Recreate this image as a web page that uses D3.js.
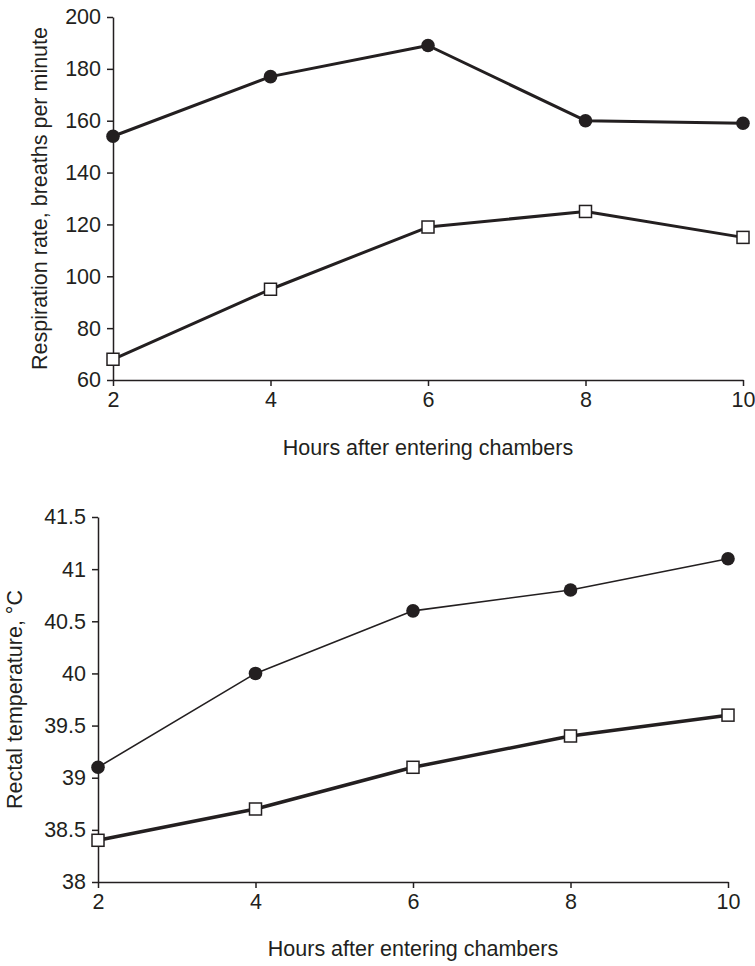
<!DOCTYPE html>
<html>
<head>
<meta charset="utf-8">
<script src="https://cdn.jsdelivr.net/npm/d3@7"></script>
<style>
  body { margin: 0; background: #fff; }
  svg text { font-family: "Liberation Sans", Arial, sans-serif; fill: #231f20; }
</style>
</head>
<body>
<svg id="chart" width="755" height="966"></svg>
<script>
// data
const hours = [2, 4, 6, 8, 10];

const respFilled = [154, 177, 189, 160, 159];
const respOpen = [68, 95, 119, 125, 115];
const respTicks = [60, 80, 100, 120, 140, 160, 180, 200];

const tempFilled = [39.1, 40.0, 40.6, 40.8, 41.1];
const tempOpen = [38.4, 38.7, 39.1, 39.4, 39.6];
const tempTicks = [38, 38.5, 39, 39.5, 40, 40.5, 41, 41.5];

const xTitle = "Hours after entering chambers";
const ink = "#231f20";
const fs = 21.5;

const svg = d3.select("#chart");

drawPanel({
  left: 113, right: 743, top: 17, bottom: 380,
  yDomain: [60, 200], yTicks: respTicks,
  filled: respFilled, open: respOpen,
  filledWidth: 3, openWidth: 3,
  yTitle: "Respiration rate, breaths per minute", yTitleX: 40,
  xTitleY: 448
});

drawPanel({
  left: 98, right: 728, top: 517, bottom: 882,
  yDomain: [38, 41.5], yTicks: tempTicks,
  filled: tempFilled, open: tempOpen,
  filledWidth: 1.6, openWidth: 3.5,
  yTitle: "Rectal temperature, \u00B0C", yTitleX: 15,
  xTitleY: 949
});

function drawPanel(p) {
  const x = d3.scaleLinear().domain([2, 10]).range([p.left, p.right]);
  const y = d3.scaleLinear().domain(p.yDomain).range([p.bottom, p.top]);

  const g = svg.append("g");

  // axes
  const xAxis = g.append("g")
    .attr("transform", `translate(0,${p.bottom})`)
    .call(d3.axisBottom(x).tickValues(hours).tickSize(6).tickSizeOuter(0).tickPadding(6).tickFormat(d => d));
  const yAxis = g.append("g")
    .attr("transform", `translate(${p.left},0)`)
    .call(d3.axisLeft(y).tickValues(p.yTicks).tickSize(6).tickSizeOuter(0).tickPadding(6).tickFormat(d => String(d)));

  [xAxis, yAxis].forEach(a => {
    a.select(".domain").attr("stroke", ink).attr("stroke-width", 1.5);
    a.selectAll(".tick line").attr("stroke", ink).attr("stroke-width", 1.5);
    a.selectAll("text").attr("font-size", fs).attr("fill", ink);
  });

  const line = d3.line().x((d, i) => x(hours[i])).y(d => y(d));

  // filled circle series
  g.append("path")
    .datum(p.filled)
    .attr("d", line)
    .attr("fill", "none")
    .attr("stroke", ink)
    .attr("stroke-width", p.filledWidth)
    .attr("stroke-linejoin", "round");

  g.selectAll(".dot")
    .data(p.filled)
    .join("circle")
    .attr("class", "dot")
    .attr("cx", (d, i) => x(hours[i]))
    .attr("cy", d => y(d))
    .attr("r", 6.8)
    .attr("fill", ink);

  // open square series
  g.append("path")
    .datum(p.open)
    .attr("d", line)
    .attr("fill", "none")
    .attr("stroke", ink)
    .attr("stroke-width", p.openWidth)
    .attr("stroke-linejoin", "round");

  const s = 12;
  g.selectAll(".sq")
    .data(p.open)
    .join("rect")
    .attr("class", "sq")
    .attr("x", (d, i) => x(hours[i]) - s / 2)
    .attr("y", d => y(d) - s / 2)
    .attr("width", s)
    .attr("height", s)
    .attr("fill", "#fff")
    .attr("stroke", ink)
    .attr("stroke-width", 1.5);

  // titles
  g.append("text")
    .attr("x", (p.left + p.right) / 2)
    .attr("y", p.xTitleY)
    .attr("text-anchor", "middle")
    .attr("dominant-baseline", "central")
    .attr("font-size", fs)
    .text(xTitle);

  g.append("text")
    .attr("transform", `translate(${p.yTitleX},${(p.top + p.bottom) / 2}) rotate(-90)`)
    .attr("text-anchor", "middle")
    .attr("dominant-baseline", "central")
    .attr("font-size", fs)
    .text(p.yTitle);
}
</script>
</body>
</html>
